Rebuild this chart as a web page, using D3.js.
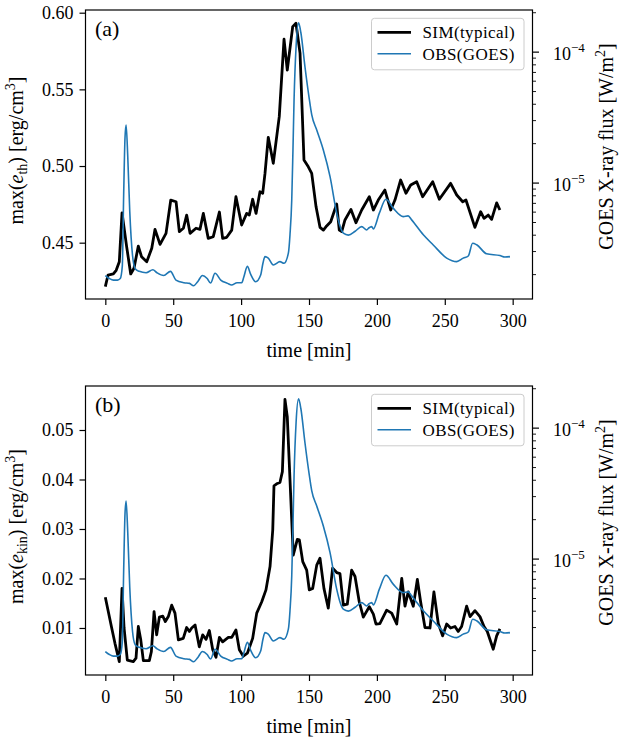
<!DOCTYPE html>
<html>
<head>
<meta charset="utf-8">
<script src="https://cdn.jsdelivr.net/npm/d3@7"></script>
<style>
body { margin: 0; background: #fff; }
svg text { font-family: "Liberation Serif", "Times New Roman", serif; }
</style>
</head>
<body>
<svg width="623" height="741"></svg>
<script>
// **** data ****

// panel (a): max thermal energy density, simulation
var simTimeA = [0, 2, 5.9, 8, 10.3, 12.3, 15.7, 18.7, 21.1, 24.3,
    26.7, 30.5, 34.2, 36.6, 40.3, 44.7, 48.2, 52.1, 54.5, 57.5,
    59.9, 62.4, 66.8, 69.7, 72.2, 75.8, 79.5, 84, 86.4, 89.4,
    93.1, 96.2, 100.4, 104.1, 106, 108.5, 111, 113.9, 115.9, 117.6,
    120, 123.7, 128.1, 131.6, 134, 138, 140.4, 143.4, 146.3, 149.5,
    152, 155.2, 158.1, 160.6, 163, 166, 170.4, 172.3, 174.1, 176.5,
    180.9, 184.6, 188.8, 194.4, 197.4, 201, 205.9, 210.2, 213.3, 217.5,
    221.4, 224.9, 229.3, 233.7, 241.1, 246, 254.3, 258.8, 263.2, 265.6,
    272.2, 276.4, 278.9, 282, 284.5, 288.2, 290.6]
var simThermal = [0.4213, 0.4289, 0.4296, 0.432, 0.4376, 0.4695, 0.4474, 0.4296, 0.4333, 0.4478,
    0.4408, 0.4376, 0.4463, 0.4587, 0.4489, 0.4561, 0.4778, 0.4767, 0.4572, 0.4594,
    0.4680, 0.4561, 0.4594, 0.4587, 0.4691, 0.4528, 0.4539, 0.4700, 0.4528, 0.4535,
    0.4582, 0.4800, 0.4615, 0.4691, 0.4680, 0.4783, 0.4691, 0.4832, 0.4822, 0.4952,
    0.5187, 0.5018, 0.5322, 0.5827, 0.5626, 0.5909, 0.5931, 0.5736, 0.5039, 0.4995,
    0.4952, 0.4734, 0.4600, 0.4582, 0.4609, 0.4637, 0.4752, 0.4582, 0.4572, 0.4648,
    0.4717, 0.4630, 0.4713, 0.4800, 0.4713, 0.4778, 0.4843, 0.4713, 0.4778, 0.4909,
    0.4822, 0.4876, 0.4898, 0.4800, 0.4898, 0.4783, 0.4887, 0.4811, 0.4767, 0.4778,
    0.4600, 0.4702, 0.4659, 0.4680, 0.4652, 0.4760, 0.4713]

// panel (b): max kinetic energy density, simulation
var simTimeB = [0, 4.7, 7.1, 10.3, 12.3, 13.8, 16.2, 20.6, 22.6, 24.3,
    26.1, 28, 32.4, 33.9, 35.9, 37.8, 39.8, 42.3, 44.2, 46.4,
    48.9, 51.3, 53.8, 57.4, 59.9, 61.9, 63.6, 66.1, 69.2, 71.7,
    74.2, 76.6, 79.1, 81.5, 84, 86.4, 90.6, 93.1, 96.2, 98.7,
    101.6, 104.6, 108.5, 111.5, 115.2, 118.3, 121.3, 123.3, 124.2, 126.7,
    128.6, 130.4, 132.3, 134, 138.4, 141.4, 142.9, 145.4, 148.3, 150.2,
    152.7, 155.7, 158.1, 161, 164.2, 167.4, 170.4, 172.8, 175.3, 178.2,
    181.4, 183.9, 187, 190, 194.4, 197.4, 199.3, 202.2, 207.2, 210.9,
    214.6, 218.3, 220.7, 223.1, 226.8, 229.8, 232.2, 235.4, 239.1, 242,
    245.2, 248.4, 251.4, 254.3, 257.5, 259.9, 262.4, 266.1, 268.6, 272.2,
    275.9, 278.9, 281.3, 285.7, 288.2, 290.6]
var simKinetic = [0.0162, 0.0100, 0.0069, 0.0032, 0.0180, 0.0100, 0.0035, 0.0032, 0.0039, 0.0103,
    0.0076, 0.0034, 0.0034, 0.0052, 0.0133, 0.0086, 0.0122, 0.0124, 0.0113, 0.0123,
    0.0146, 0.0130, 0.0076, 0.0079, 0.0101, 0.0093, 0.0100, 0.0106, 0.0062, 0.0086,
    0.0077, 0.0095, 0.0056, 0.0041, 0.0081, 0.0072, 0.0081, 0.0081, 0.0096, 0.0056,
    0.0043, 0.0049, 0.0079, 0.0130, 0.0153, 0.0177, 0.0224, 0.0298, 0.0387, 0.0392,
    0.0394, 0.0416, 0.0562, 0.0527, 0.0247, 0.0279, 0.0278, 0.0234, 0.0217, 0.0177,
    0.0180, 0.0227, 0.0241, 0.0180, 0.0140, 0.0221, 0.0212, 0.0210, 0.0146, 0.0148,
    0.0217, 0.0204, 0.0153, 0.0122, 0.0143, 0.0128, 0.0108, 0.0109, 0.0136, 0.0130,
    0.0108, 0.0200, 0.0144, 0.0173, 0.0144, 0.0198, 0.0153, 0.0101, 0.0100, 0.0173,
    0.0109, 0.0084, 0.0108, 0.0100, 0.0103, 0.0093, 0.0103, 0.0144, 0.0123, 0.0135,
    0.0123, 0.0103, 0.0093, 0.0057, 0.0084, 0.0098]

// GOES X-ray flux (W/m^2), same curve in both panels
var goesTime = [0, 3, 6, 9, 11, 12.5, 13.5, 14.5, 15.3, 16.5,
    18, 20, 22, 25, 30, 35, 38, 43, 48, 52,
    58, 62, 65, 68, 71.5, 75, 77.5, 80.8, 85, 90,
    93, 97, 100.5, 102, 104.6, 107, 110.7, 114.4, 116, 117.6,
    120, 123.7, 128.6, 131.6, 134.8, 136, 137.3, 138.2, 139, 140.5,
    142.3, 144, 147, 150, 152, 155.7, 160.5, 165.5, 170.4, 173,
    175.3, 179, 184, 188.8, 192.5, 194, 196.2, 197.4, 201.8, 206.7,
    212, 219.4, 223, 225.6, 234.2, 241.5, 251.4, 258.8, 263.6, 267.3,
    270.5, 273.5, 280.8, 290.6, 294.3, 298]
var goesFlux = [1.95e-6, 1.85e-6, 1.8e-6, 1.8e-6, 1.85e-6, 2.3e-6, 8e-6, 2.2e-5, 2.75e-5, 1.6e-5,
    6e-6, 2.8e-6, 2.2e-6, 2.1e-6, 2.05e-6, 2.16e-6, 2.05e-6, 1.95e-6, 2.1e-6, 1.8e-6,
    1.72e-6, 1.7e-6, 1.63e-6, 1.75e-6, 1.95e-6, 1.85e-6, 1.71e-6, 2.03e-6, 1.8e-6, 1.7e-6,
    1.65e-6, 1.72e-6, 1.72e-6, 1.9e-6, 2.29e-6, 2.0e-6, 1.75e-6, 1.97e-6, 2.4e-6, 2.72e-6,
    2.65e-6, 2.35e-6, 2.49e-6, 2.42e-6, 2.89e-6, 4e-6, 7.4e-6, 1.8e-5, 4.3e-5, 1.1e-4,
    1.66e-4, 1.4e-4, 7.7e-5, 4.5e-5, 3.3e-5, 2.52e-5, 1.78e-5, 1.11e-5, 5.84e-6, 4.6e-6,
    4.11e-6, 3.97e-6, 4.25e-6, 4.61e-6, 4.35e-6, 4.5e-6, 4.61e-6, 4.43e-6, 5.84e-6, 7.46e-6,
    6.38e-6, 5.5e-6, 5.57e-6, 5.19e-6, 3.99e-6, 3.34e-6, 2.65e-6, 2.49e-6, 2.65e-6, 2.75e-6,
    3.44e-6, 3.35e-6, 2.86e-6, 2.77e-6, 2.70e-6, 2.72e-6]

// tick labels
var timeTicks = [0, 50, 100, 150, 200, 250, 300]
var thermalTicks = [0.45, 0.50, 0.55, 0.60]
var kineticTicks = [0.01, 0.02, 0.03, 0.04, 0.05]
var fluxMajor = [1e-5, 1e-4]
var legendNames = ['SIM(typical)', 'OBS(GOES)']

// **** layout ****
var svg = d3.select('svg')
var font = 'Liberation Serif, Times New Roman, serif'
var plotLeft = 85.5, plotRight = 532.5
var xDomain = [-14.6, 314.6]
var fluxDomain = [Math.pow(10, -5.889), Math.pow(10, -3.682)]
var simColor = '#000000', obsColor = '#1f77b4'

var fluxMinor = []
;[1e-6, 1e-5, 1e-4].forEach(function(dec) {
    for (var k = 2; k <= 9; k++) {
        var v = k * dec
        if (v >= fluxDomain[0] && v <= fluxDomain[1]) fluxMinor.push(v)
    }
})

function drawPanel(opt) {
    var top = opt.top, bottom = opt.bottom
    var x = d3.scaleLinear().domain(xDomain).range([plotLeft, plotRight])
    var y = d3.scaleLinear().domain(opt.yDomain).range([bottom, top])
    var yFlux = d3.scaleLog().domain(fluxDomain).range([bottom, top])

    var clipId = 'clip-' + opt.name
    svg.append('clipPath').attr('id', clipId)
        .append('rect')
        .attr('x', plotLeft).attr('y', top)
        .attr('width', plotRight - plotLeft).attr('height', bottom - top)

    // simulation curve (left axis)
    var simLine = d3.line()
        .x(function(d) { return x(d[0]) })
        .y(function(d) { return y(d[1]) })
    svg.append('path')
        .datum(d3.zip(opt.simTime, opt.simValues))
        .attr('clip-path', 'url(#' + clipId + ')')
        .attr('fill', 'none')
        .attr('stroke', simColor)
        .attr('stroke-width', 2.8)
        .attr('stroke-linejoin', 'round')
        .attr('d', simLine)

    // GOES curve (twin log axis, drawn on top)
    var obsLine = d3.line()
        .curve(d3.curveMonotoneX)
        .x(function(d) { return x(d[0]) })
        .y(function(d) { return yFlux(d[1]) })
    svg.append('path')
        .datum(d3.zip(goesTime, goesFlux))
        .attr('clip-path', 'url(#' + clipId + ')')
        .attr('fill', 'none')
        .attr('stroke', obsColor)
        .attr('stroke-width', 1.6)
        .attr('d', obsLine)

    // x axis
    var gx = svg.append('g')
        .attr('transform', 'translate(0,' + bottom + ')')
        .call(d3.axisBottom(x).tickValues(timeTicks).tickSize(6).tickSizeOuter(0)
            .tickFormat(d3.format('d')))
    gx.attr('font-size', 18)
    gx.select('.domain').remove()
    gx.selectAll('line').attr('stroke-width', 1.2)
    gx.selectAll('text').attr('y', 28.3).attr('dy', 0).attr('fill', '#000')

    svg.append('text')
        .attr('x', (plotLeft + plotRight) / 2)
        .attr('y', bottom + 57.5)
        .attr('text-anchor', 'middle')
        .attr('font-size', 20)
        .text('time [min]')

    // left axis
    var gy = svg.append('g')
        .attr('transform', 'translate(' + plotLeft + ',0)')
        .call(d3.axisLeft(y).tickValues(opt.yTicks).tickSize(6).tickPadding(6).tickSizeOuter(0)
            .tickFormat(d3.format('.2f')))
    gy.attr('font-size', 18)
    gy.select('.domain').remove()
    gy.selectAll('line').attr('stroke-width', 1.2)
    gy.selectAll('text').attr('fill', '#000')

    var ly = svg.append('text')
        .attr('transform', 'translate(23,' + ((top + bottom) / 2 - 4) + ') rotate(-90)')
        .attr('text-anchor', 'middle')
        .attr('font-size', 20)
    ly.append('tspan').text('max(')
    ly.append('tspan').attr('font-style', 'italic').text('e')
    ly.append('tspan').attr('font-size', 14).attr('dy', 4).text(opt.sub)
    ly.append('tspan').attr('dy', -4).text(') [erg/cm')
    ly.append('tspan').attr('font-size', 14).attr('dy', -8).text('3')
    ly.append('tspan').attr('dy', 8).text(']')

    // right (log) axis
    var gr = svg.append('g')
        .attr('transform', 'translate(' + plotRight + ',0)')
        .call(d3.axisRight(yFlux).tickValues(fluxMajor).tickSize(6.5).tickPadding(14)
            .tickSizeOuter(0).tickFormat(function() { return '' }))
    gr.attr('font-size', 18)
    gr.select('.domain').remove()
    gr.selectAll('line').attr('stroke-width', 1.2)
    gr.selectAll('.tick text').each(function(d) {
        var t = d3.select(this).attr('fill', '#000').attr('dy', '0.42em')
        t.append('tspan').text('10')
        t.append('tspan').attr('font-size', 13).attr('dy', -7.5)
            .text('\u2212' + Math.round(-Math.log10(d)))
    })

    var grMinor = svg.append('g')
        .attr('transform', 'translate(' + plotRight + ',0)')
        .call(d3.axisRight(yFlux).tickValues(fluxMinor).tickSize(3.5).tickSizeOuter(0)
            .tickFormat(function() { return '' }))
    grMinor.select('.domain').remove()
    grMinor.selectAll('line').attr('stroke-width', 0.9)

    var ry = svg.append('text')
        .attr('transform', 'translate(613,' + ((top + bottom) / 2 - 8) + ') rotate(-90)')
        .attr('text-anchor', 'middle')
        .attr('font-size', 20)
    ry.append('tspan').text('GOES X-ray flux [W/m')
    ry.append('tspan').attr('font-size', 14).attr('dy', -8).text('2')
    ry.append('tspan').attr('dy', 8).text(']')

    // frame
    svg.append('rect')
        .attr('x', plotLeft).attr('y', top)
        .attr('width', plotRight - plotLeft).attr('height', bottom - top)
        .attr('fill', 'none')
        .attr('stroke', '#000')
        .attr('stroke-width', 1.2)

    // panel tag
    svg.append('text')
        .attr('x', 95).attr('y', top + 25.5)
        .attr('font-size', 22)
        .text(opt.tag)

    // legend
    var lg = svg.append('g').attr('transform', 'translate(371.5,' + (top + 8.3) + ')')
    lg.append('rect')
        .attr('width', 152.5).attr('height', 51.5)
        .attr('rx', 3).attr('ry', 3)
        .attr('fill', '#fff').attr('fill-opacity', 0.8)
        .attr('stroke', '#cccccc').attr('stroke-width', 1)
    var colors = [simColor, obsColor], widths = [2.8, 1.6]
    legendNames.forEach(function(name, i) {
        var yy = 14 + i * 21.5
        lg.append('line')
            .attr('x1', 6).attr('x2', 39.5).attr('y1', yy).attr('y2', yy)
            .attr('stroke', colors[i]).attr('stroke-width', widths[i])
        lg.append('text')
            .attr('x', 51).attr('y', yy + 5.8)
            .attr('font-size', 17)
            .attr('letter-spacing', 0.4)
            .text(name)
    })
}

drawPanel({ name: 'a', tag: '(a)', top: 10, bottom: 299,
    yDomain: [0.41327, 0.60176], yTicks: thermalTicks, sub: 'th',
    simTime: simTimeA, simValues: simThermal })

drawPanel({ name: 'b', tag: '(b)', top: 386, bottom: 675,
    yDomain: [0.0005, 0.05889], yTicks: kineticTicks, sub: 'kin',
    simTime: simTimeB, simValues: simKinetic })

// d3 axes put a sans-serif family on their groups; use the serif face everywhere
svg.selectAll('g').attr('font-family', null)
svg.selectAll('text').style('font-family', font)
</script>
</body>
</html>
